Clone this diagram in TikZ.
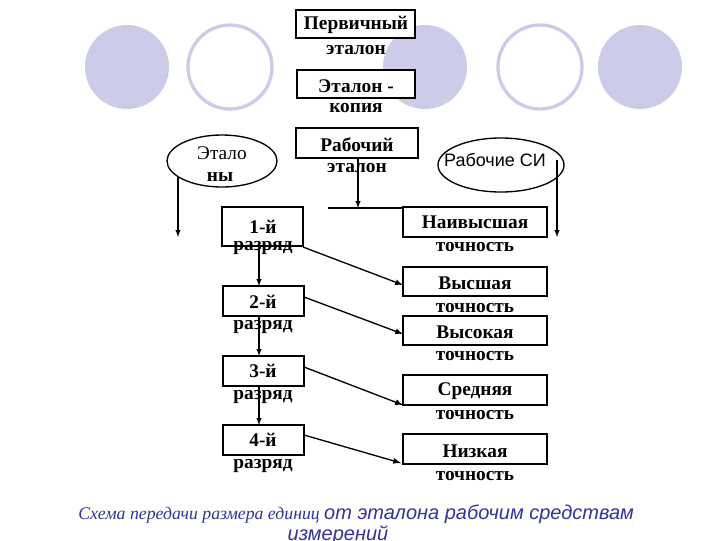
\documentclass[tikz,border=0pt]{standalone}
\usepackage{fontspec}
\setmainfont{Liberation Serif}
\newfontfamily\arial{Liberation Sans}
\definecolor{lav}{RGB}{204,204,232}
\definecolor{cap}{RGB}{51,51,153}
\begin{document}
\begin{tikzpicture}[x=0.75pt,y=-0.75pt,
  bx/.style={draw,line width=1pt},
  tx/.style={font=\bfseries\fontsize{14.5}{16}\selectfont,inner sep=0pt},
  ar/.style={-latex,line width=0.8pt},
  dg/.style={-latex,line width=1pt}]
\useasboundingbox (0,0) rectangle (720,540);
\fill[lav] (127,67) circle (42);
\draw[lav,line width=2.5pt] (230,67) circle (42);
\fill[lav] (425,67) circle (42);
\draw[lav,line width=2.5pt] (540,67) circle (42);
\fill[lav] (640,67) circle (42);
% top boxes
\draw[bx,fill=white] (296,10) rectangle (415,38);
\node[tx] (p1) at (356,25) {Первичный};
\node[tx] (p2) at (356,50) {эталон};
\draw[bx,fill=white] (297,70) rectangle (415,98);
\node[tx] (k1) at (356,86) {Эталон -};
\node[tx] (k2) at (356,108) {копия};
\draw[bx] (296,128) rectangle (418,158);
\coordinate (rb) at (358,158);
\node[tx] (r1) at (357,145) {Рабочий};
\node[tx] (r2) at (357,168) {эталон};
% ellipses
\draw[line width=1pt] (222,161) ellipse (55 and 26);
\node[tx,font=\fontsize{14.5}{16}\selectfont] (e1) at (222,153) {Этало};
\node[tx] (e2) at (220,177) {ны};
\draw[line width=1pt] (501,165) ellipse (63 and 27);
\node[inner sep=0pt,font=\arial\fontsize{13.5}{15}\selectfont] (si) at (495,160) {Рабочие СИ};
\coordinate (la) at (178,176); \coordinate (lb) at (178,237);
\coordinate (ra) at (557,160); \coordinate (rr) at (557,237);
\draw[ar] (la) -- (lb);
\draw[ar] (ra) -- (rr);
\coordinate (hb) at (358,208);
\draw[ar] (rb) -- (hb);
\coordinate (h1) at (328,208); \coordinate (h2) at (403,208);
\draw[line width=1.8pt] (h1) -- (h2);
% left boxes
\draw[bx] (222,207) rectangle (303,246);
\node[tx] (a1) at (263,227) {1-й};
\node[tx] (a1b) at (263,248) {разряд};
\draw[bx] (223,286) rectangle (304,316);
\node[tx] (a2) at (263,302) {2-й};
\node[tx] (a2b) at (263,327) {разряд};
\draw[bx] (223,356) rectangle (304,386);
\node[tx] (a3) at (263,371) {3-й};
\node[tx] (a3b) at (263,397) {разряд};
\draw[bx] (223,425) rectangle (304,455);
\node[tx] (a4) at (263,440) {4-й};
\node[tx] (a4b) at (263,466) {разряд};
\coordinate (v1) at (259,246); \coordinate (v2) at (259,286);
\coordinate (v3) at (259,316); \coordinate (v4) at (259,356);
\coordinate (v5) at (259,386); \coordinate (v6) at (259,425);
\draw[ar] (v1) -- (v2); \draw[ar] (v3) -- (v4); \draw[ar] (v5) -- (v6);
% right boxes
\draw[bx] (403,207) rectangle (547,237);
\node[tx] (b0) at (475,222) {Наивысшая};
\node[tx] (b0b) at (475,247) {точность};
\draw[bx] (403,267) rectangle (547,296);
\node[tx] (b1) at (475,283) {Высшая};
\node[tx] (b1b) at (475,308) {точность};
\draw[bx] (403,316) rectangle (547,345);
\node[tx] (b2) at (475,332) {Высокая};
\node[tx] (b2b) at (475,356) {точность};
\draw[bx] (403,375) rectangle (547,405);
\node[tx] (b3) at (475,391) {Средняя};
\node[tx] (b3b) at (475,415) {точность};
\draw[bx] (403,434) rectangle (547,464);
\node[tx] (b4) at (475,451) {Низкая};
\node[tx] (b4b) at (475,476) {точность};
% diagonals
\coordinate (d1) at (303,247); \coordinate (e1x) at (403,285);
\coordinate (d2) at (304,297); \coordinate (e2x) at (403,334);
\coordinate (d3) at (304,367); \coordinate (e3x) at (403,405);
\coordinate (d4) at (304,435); \coordinate (e4x) at (401,463);
\draw[dg] (d1) -- (e1x); \draw[dg] (d2) -- (e2x);
\draw[dg] (d3) -- (e3x); \draw[dg] (d4) -- (e4x);
% caption
\node[anchor=west,inner sep=0pt,text=cap] (c1) at (78,514) {\itshape\fontsize{13.3}{15}\selectfont Схема передачи размера единиц {\arial\fontsize{15}{17}\selectfont от эталона рабочим средствам}};
\node[inner sep=0pt,text=cap] (c2) at (338,535) {\arial\itshape\fontsize{15}{17}\selectfont измерений};
\end{tikzpicture}
\end{document}
